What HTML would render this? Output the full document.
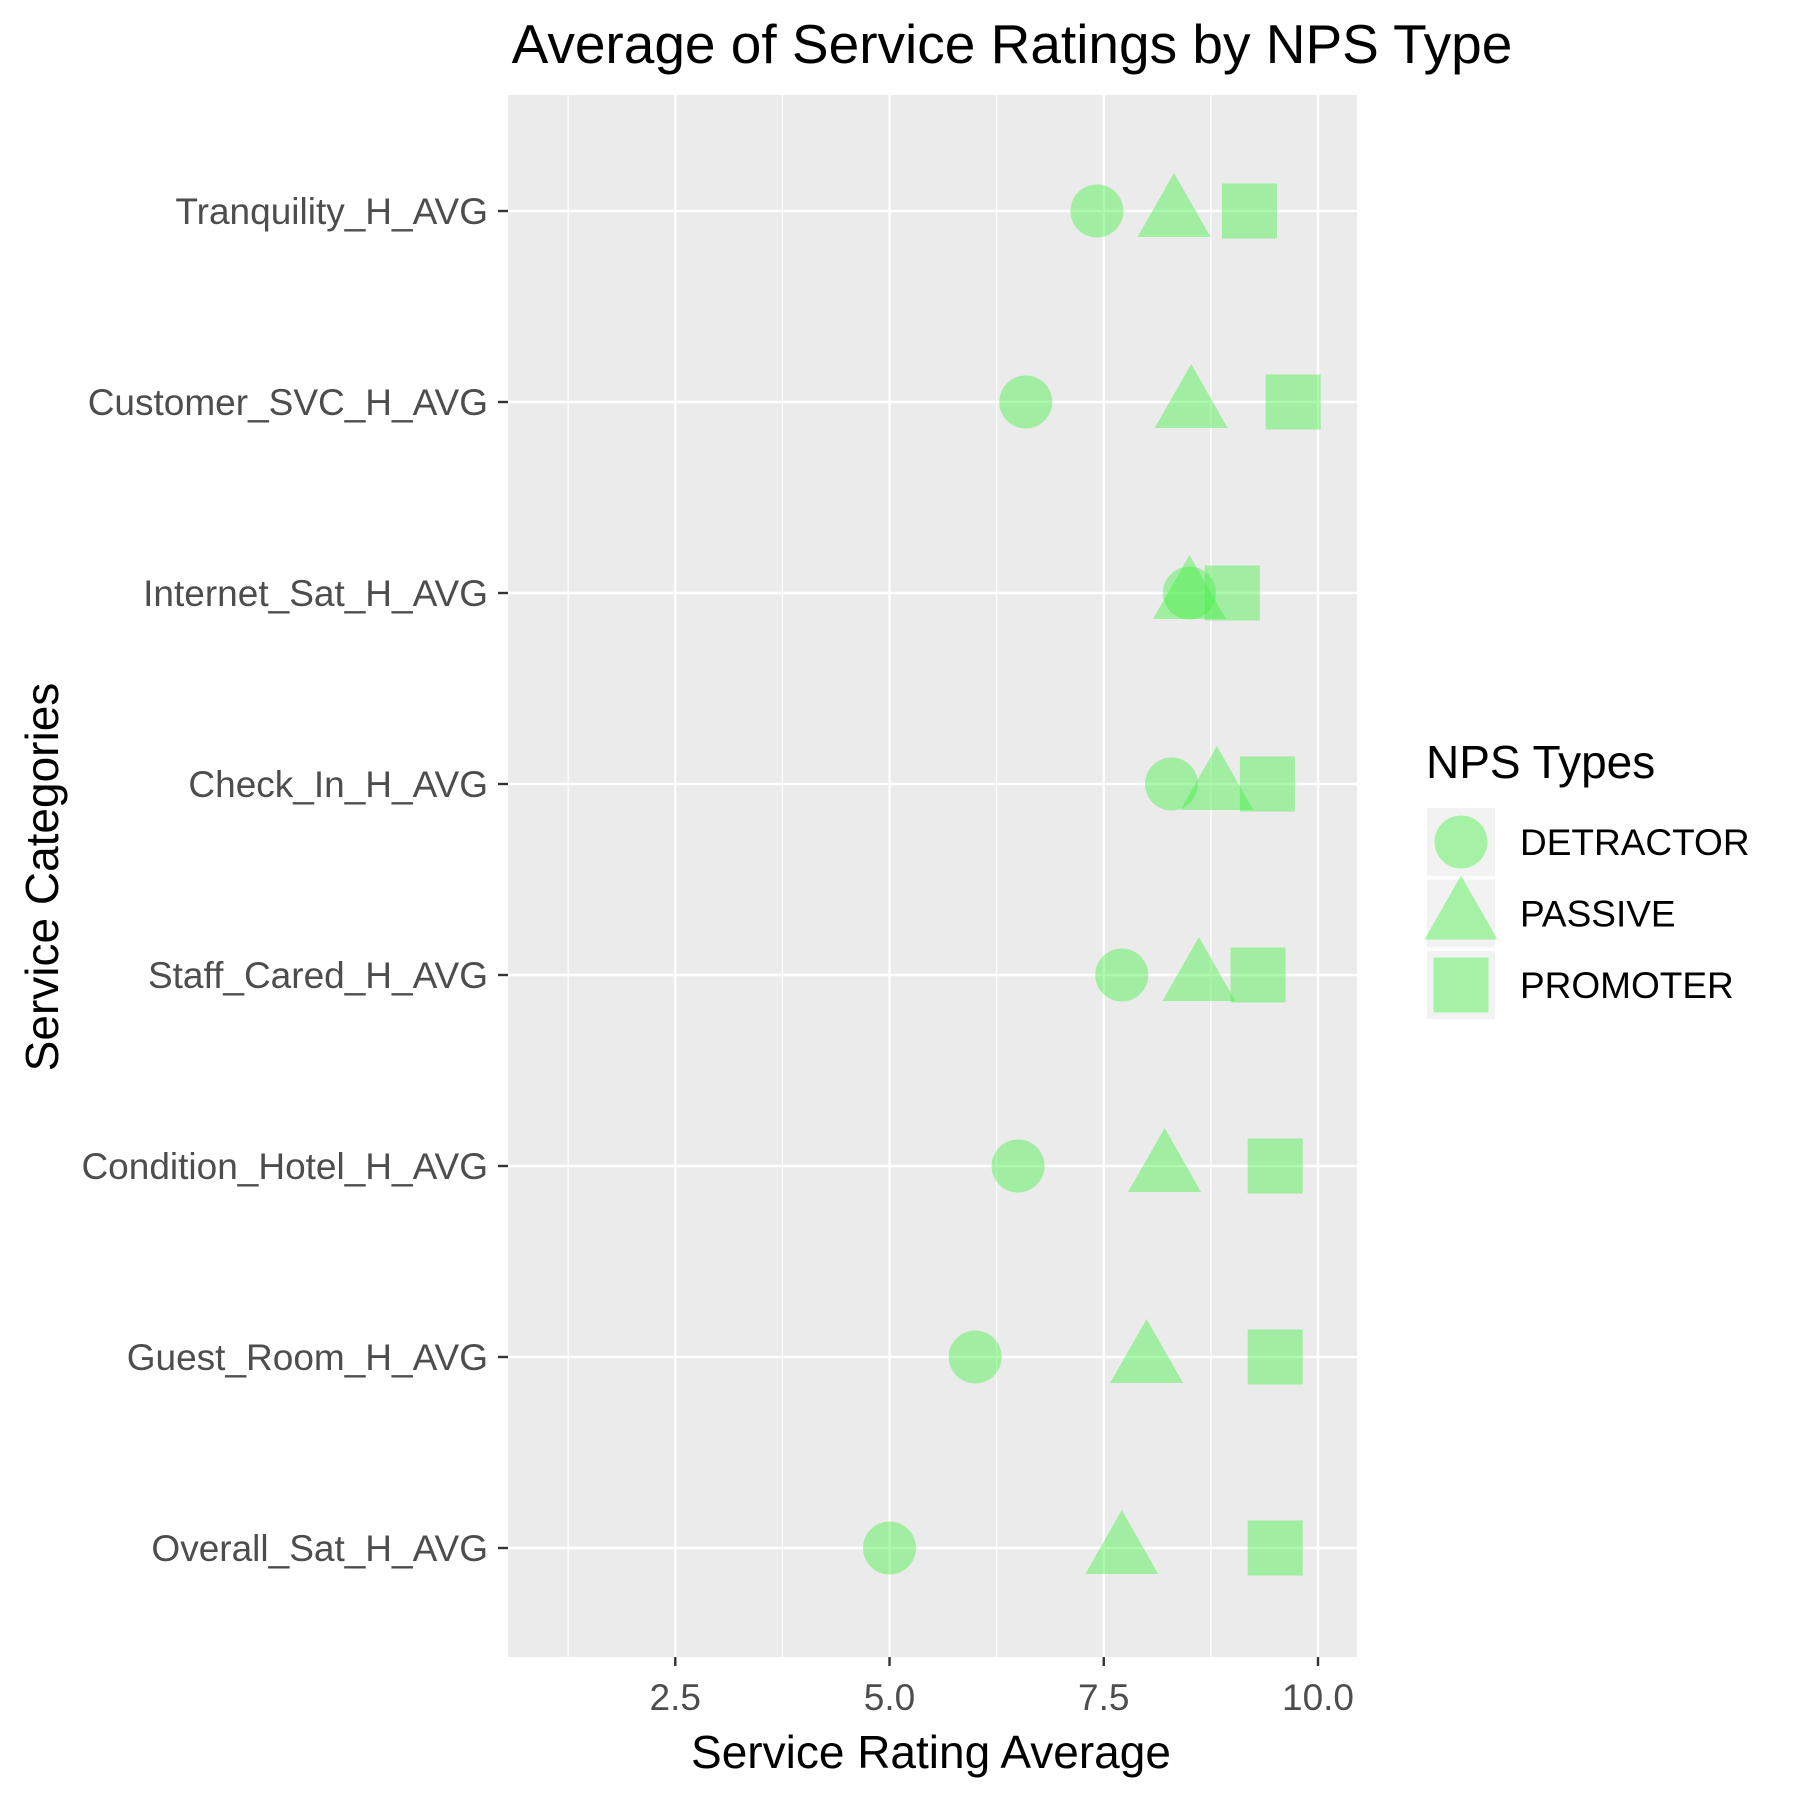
<!DOCTYPE html>
<html><head><meta charset="utf-8"><style>
html,body{margin:0;padding:0;background:#fff}
svg{display:block;font-family:"Liberation Sans",Arial,sans-serif}
</style></head><body>
<svg id="chart" width="1800" height="1800" viewBox="0 0 1800 1800">
<rect x="0" y="0" width="1800" height="1800" fill="#fff"/>
<text x="1012" y="63" font-size="55" text-anchor="middle" fill="#000">Average of Service Ratings by NPS Type</text>
<g id="plot"></g>
<text x="931" y="1768" font-size="46" text-anchor="middle" fill="#000">Service Rating Average</text>
<text x="0" y="0" font-size="46" text-anchor="middle" fill="#000" transform="translate(58,877) rotate(-90)">Service Categories</text>
<g id="legend">
<text x="1426" y="778" font-size="46" fill="#000">NPS Types</text>
</g>
</svg>
<script>
const categories = ["Tranquility_H_AVG","Customer_SVC_H_AVG","Internet_Sat_H_AVG","Check_In_H_AVG","Staff_Cared_H_AVG","Condition_Hotel_H_AVG","Guest_Room_H_AVG","Overall_Sat_H_AVG"];
const detractor = [7.42, 6.59, 8.5, 8.29, 7.71, 6.5, 6.0, 5.0];
const passive = [8.32, 8.52, 8.5, 8.82, 8.61, 8.21, 8.0, 7.71];
const promoter = [9.2, 9.71, 9.0, 9.41, 9.3, 9.5, 9.5, 9.5];
const xTicks = [2.5, 5.0, 7.5, 10.0];
const xTickLabels = ["2.5", "5.0", "7.5", "10.0"];
const seriesNames = ["DETRACTOR", "PASSIVE", "PROMOTER"];

const NS = "http://www.w3.org/2000/svg";
const P = {l:508, r:1357, t:95, b:1657};
const xMin = 0.548, xMax = 10.455;
function xs(v){ return P.l + (v - xMin) / (xMax - xMin) * (P.r - P.l); }
function ys(i){ return 211 + i * 191; }
function mk(tag, attrs, parent){ const e = document.createElementNS(NS, tag); for (const k in attrs) e.setAttribute(k, attrs[k]); parent.appendChild(e); return e; }
const FILL = "rgba(70,240,70,0.45)";
const plot = document.getElementById("plot");
const panel = mk("rect", {x:P.l, y:P.t, width:P.r-P.l, height:P.b-P.t, fill:"#ebebeb"}, plot);


for (let i = 0; i < xTicks.length; i++) {
  const v = xTicks[i] - 1.25;
  const l = mk("line", {x1:xs(v), x2:xs(v), y1:P.t, y2:P.b, stroke:"#fff", "stroke-width":1.2}, plot);
  
  
}
for (let i = 0; i < xTicks.length; i++) {
  const x = xs(xTicks[i]);
  const l = mk("line", {x1:x, x2:x, y1:P.t, y2:P.b, stroke:"#fff", "stroke-width":2.4}, plot);
  
  
  const t = mk("line", {x1:x, x2:x, y1:P.b, y2:P.b+9, stroke:"#333", "stroke-width":2.4}, plot);
  
  
  const tx = mk("text", {x:x, y:1710, "font-size":37, "text-anchor":"middle", fill:"#4d4d4d"}, plot);
  tx.textContent = xTickLabels[i];
  
  
}
for (let i = 0; i < categories.length; i++) {
  const y = ys(i);
  const l = mk("line", {x1:P.l, x2:P.r, y1:y, y2:y, stroke:"#fff", "stroke-width":2.4}, plot);
  
  
  const t = mk("line", {x1:P.l-10, x2:P.l, y1:y, y2:y, stroke:"#333", "stroke-width":2.4}, plot);
  
  
  const tx = mk("text", {x:P.l-20, y:y+13, "font-size":37, "text-anchor":"end", fill:"#4d4d4d"}, plot);
  tx.textContent = categories[i];
  
  
}
function circle(cx, cy, parent){ return mk("circle", {cx:cx, cy:cy, r:26.5, fill:FILL}, parent); }
function tri(cx, cy, parent){ return mk("polygon", {points:`${cx-36.5},${cy+26} ${cx+36.5},${cy+26} ${cx},${cy-38}`, fill:FILL}, parent); }
function square(cx, cy, parent){ return mk("rect", {x:cx-27.5, y:cy-27.5, width:55, height:55, fill:FILL}, parent); }
for (let i = 0; i < categories.length; i++) {
  const c = circle(xs(detractor[i]), ys(i), plot);
  
  
  const t = tri(xs(passive[i]), ys(i), plot);
  
  
  const s = square(xs(promoter[i]), ys(i), plot);
  
  
}
const legend = document.getElementById("legend");
const drawers = [circle, tri, square];
for (let i = 0; i < seriesNames.length; i++) {
  const cy = 842 + i * 71.5;
  const g = mk("g", {}, legend);
  
  
  mk("rect", {x:1427, y:cy-34, width:68, height:68, fill:"#f2f2f2"}, g);
  drawers[i](1461, cy, g);
  const tx = mk("text", {x:1520, y:cy+13, "font-size":37, fill:"#000"}, g);
  tx.textContent = seriesNames[i];
}
</script>
</body></html>
